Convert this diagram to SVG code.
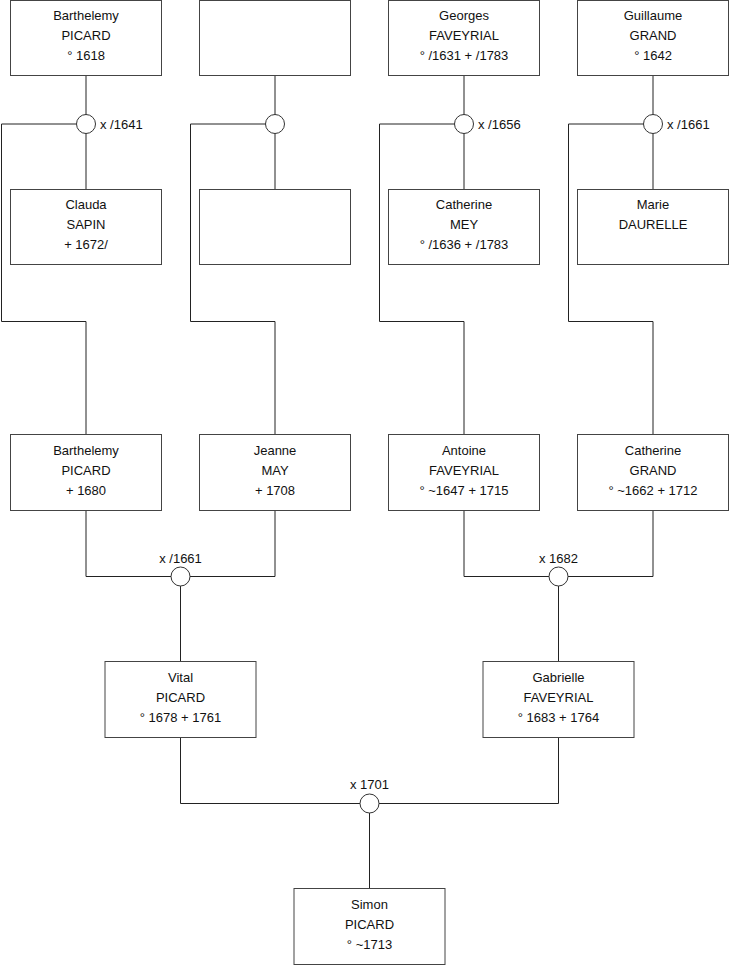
<svg xmlns="http://www.w3.org/2000/svg" width="740" height="975" viewBox="0 0 740 975">
<style>
.box{fill:#fff;stroke:#444;stroke-width:1}
.ln{fill:none;stroke:#222;stroke-width:1}
.ring{fill:#fff;stroke:#333;stroke-width:1}
text{font-family:"Liberation Sans",Arial,sans-serif;font-size:13px;fill:#111}
.c{text-anchor:middle}
</style>
<rect width="740" height="975" fill="#fff"/>
<g id="connectors">
<path class="ln" d="M86 75.5V124M1.5 124H86M1.5 124V321.5H86V434.5M86 124V189.5"/>
<path class="ln" d="M275 75.5V124M190.5 124H275M190.5 124V321.5H275V434.5M275 124V189.5"/>
<path class="ln" d="M464 75.5V124M379.5 124H464M379.5 124V321.5H464V434.5M464 124V189.5"/>
<path class="ln" d="M653 75.5V124M568.5 124H653M568.5 124V321.5H653V434.5M653 124V189.5"/>
<path class="ln" d="M86 510.5V576.5H275V510.5M180.5 576.5V661.5"/>
<path class="ln" d="M464 510.5V576.5H653V510.5M558.5 576.5V661.5"/>
<path class="ln" d="M180.5 737.5V803.5H558.5V737.5M369.5 803.5V888.5"/>
<circle class="ring" cx="86" cy="124" r="9.5"/>
<circle class="ring" cx="275" cy="124" r="9.5"/>
<circle class="ring" cx="464" cy="124" r="9.5"/>
<circle class="ring" cx="653" cy="124" r="9.5"/>
<circle class="ring" cx="180.5" cy="576.5" r="9.5"/>
<circle class="ring" cx="558.5" cy="576.5" r="9.5"/>
<circle class="ring" cx="369.5" cy="803.5" r="9.5"/>
<text x="100" y="128.5">x /1641</text>
<text x="478" y="128.5">x /1656</text>
<text x="667" y="128.5">x /1661</text>
<text class="c" x="180.5" y="563">x /1661</text>
<text class="c" x="558.5" y="563">x 1682</text>
<text class="c" x="369.5" y="789">x 1701</text>
</g>
<g id="n1"><rect class="box" x="10.5" y="0.5" width="151" height="75"/><text class="c" x="86" y="20">Barthelemy</text><text class="c" x="86" y="40">PICARD</text><text class="c" x="86" y="60">° 1618</text></g>
<g id="n2"><rect class="box" x="199.5" y="0.5" width="151" height="75"/></g>
<g id="n3"><rect class="box" x="388.5" y="0.5" width="151" height="75"/><text class="c" x="464" y="20">Georges</text><text class="c" x="464" y="40">FAVEYRIAL</text><text class="c" x="464" y="60">° /1631 + /1783</text></g>
<g id="n4"><rect class="box" x="577.5" y="0.5" width="151" height="75"/><text class="c" x="653" y="20">Guillaume</text><text class="c" x="653" y="40">GRAND</text><text class="c" x="653" y="60">° 1642</text></g>
<g id="n5"><rect class="box" x="10.5" y="189.5" width="151" height="75"/><text class="c" x="86" y="209">Clauda</text><text class="c" x="86" y="229">SAPIN</text><text class="c" x="86" y="249">+ 1672/</text></g>
<g id="n6"><rect class="box" x="199.5" y="189.5" width="151" height="75"/></g>
<g id="n7"><rect class="box" x="388.5" y="189.5" width="151" height="75"/><text class="c" x="464" y="209">Catherine</text><text class="c" x="464" y="229">MEY</text><text class="c" x="464" y="249">° /1636 + /1783</text></g>
<g id="n8"><rect class="box" x="577.5" y="189.5" width="151" height="75"/><text class="c" x="653" y="209">Marie</text><text class="c" x="653" y="229">DAURELLE</text></g>
<g id="n9"><rect class="box" x="10.5" y="434.5" width="151" height="76"/><text class="c" x="86" y="455">Barthelemy</text><text class="c" x="86" y="475">PICARD</text><text class="c" x="86" y="495">+ 1680</text></g>
<g id="n10"><rect class="box" x="199.5" y="434.5" width="151" height="76"/><text class="c" x="275" y="455">Jeanne</text><text class="c" x="275" y="475">MAY</text><text class="c" x="275" y="495">+ 1708</text></g>
<g id="n11"><rect class="box" x="388.5" y="434.5" width="151" height="76"/><text class="c" x="464" y="455">Antoine</text><text class="c" x="464" y="475">FAVEYRIAL</text><text class="c" x="464" y="495">° ~1647 + 1715</text></g>
<g id="n12"><rect class="box" x="577.5" y="434.5" width="151" height="76"/><text class="c" x="653" y="455">Catherine</text><text class="c" x="653" y="475">GRAND</text><text class="c" x="653" y="495">° ~1662 + 1712</text></g>
<g id="n13"><rect class="box" x="105" y="661.5" width="151" height="76"/><text class="c" x="180.5" y="682">Vital</text><text class="c" x="180.5" y="702">PICARD</text><text class="c" x="180.5" y="722">° 1678 + 1761</text></g>
<g id="n14"><rect class="box" x="483" y="661.5" width="151" height="76"/><text class="c" x="558.5" y="682">Gabrielle</text><text class="c" x="558.5" y="702">FAVEYRIAL</text><text class="c" x="558.5" y="722">° 1683 + 1764</text></g>
<g id="n15"><rect class="box" x="294" y="888.5" width="151" height="76"/><text class="c" x="369.5" y="909">Simon</text><text class="c" x="369.5" y="929">PICARD</text><text class="c" x="369.5" y="949">° ~1713</text></g>
</svg>
